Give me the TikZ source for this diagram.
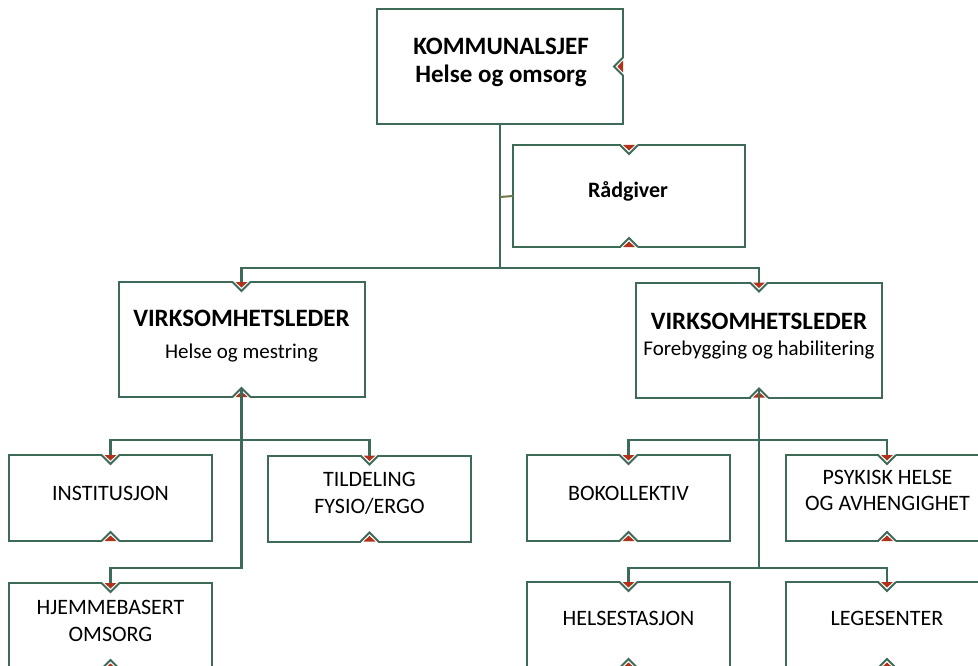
\documentclass[tikz,border=0pt]{standalone}
\usepackage{fontspec}
\setmainfont{Carlito}
\definecolor{lc}{HTML}{3E6B57}
\definecolor{olv}{HTML}{6E7A4C}
\definecolor{rd}{HTML}{B0321A}
\newcommand\notchtop[1]{%
  \fill[white] ([xshift=-8.5pt,yshift=-1.8pt]#1.north) rectangle ([xshift=8.5pt,yshift=1.8pt]#1.north);
  \fill[rd] ([xshift=-6pt]#1.north) -- ([xshift=6pt]#1.north) -- ([yshift=-5.5pt]#1.north) -- cycle;
  \draw[notchline] ([xshift=-9pt]#1.north) -- ([yshift=-9pt]#1.north) -- ([xshift=9pt]#1.north);}
\newcommand\notchbot[1]{%
  \fill[white] ([xshift=-8.5pt,yshift=-1.8pt]#1.south) rectangle ([xshift=8.5pt,yshift=1.8pt]#1.south);
  \fill[rd] ([xshift=-6pt]#1.south) -- ([xshift=6pt]#1.south) -- ([yshift=5.5pt]#1.south) -- cycle;
  \draw[notchline] ([xshift=-9pt]#1.south) -- ([yshift=9pt]#1.south) -- ([xshift=9pt]#1.south);}
\newcommand\notchright[1]{%
  \fill[white] ([xshift=-1.8pt,yshift=-8.5pt]#1.east) rectangle ([xshift=1.8pt,yshift=8.5pt]#1.east);
  \fill[rd] ([yshift=-6pt]#1.east) -- ([yshift=6pt]#1.east) -- ([xshift=-5.5pt]#1.east) -- cycle;
  \draw[notchline] ([yshift=-9pt]#1.east) -- ([xshift=-9pt]#1.east) -- ([yshift=9pt]#1.east);}
\tikzset{
  orgbox/.style={draw=lc, line width=2pt, fill=white, inner sep=0pt, outer sep=0pt, rectangle},
  smallbox/.style={orgbox, minimum width=203pt, minimum height=86pt},
  bigbox/.style={orgbox, minimum width=246pt, minimum height=115pt},
  notchline/.style={draw=lc, line width=2pt, line join=miter},
  conn/.style={draw=lc, line width=2.4pt},
  hdr/.style={anchor=base, inner sep=0pt, font=\fontsize{25}{30}\selectfont\bfseries},
  sub/.style={anchor=base, inner sep=0pt, font=\fontsize{21}{25}\selectfont},
  unit/.style={anchor=base, inner sep=0pt, font=\fontsize{22}{26}\selectfont},
}
\begin{document}
\begin{tikzpicture}[x=1pt,y=-1pt]
\useasboundingbox (0,0) rectangle (978,666);
\clip (0,0) rectangle (978,666);
% boxes
\node[bigbox] (kom) at (500,66.5) {};
\node[orgbox, minimum width=232pt, minimum height=102pt] (rad) at (629,196) {};
\node[bigbox] (vl1) at (241.5,339.5) {};
\node[bigbox] (vl2) at (759,340) {};
\node[smallbox] (inst) at (110.5,498) {};
\node[smallbox] (tild) at (369.5,498.5) {};
\node[smallbox] (hjem) at (110.5,626) {};
\node[smallbox] (bok) at (628.5,498) {};
\node[smallbox] (psy) at (887,498) {};
\node[smallbox] (hel) at (628.5,625) {};
\node[smallbox] (leg) at (887,625) {};
% notches
\notchright{kom}
\foreach \n in {rad,vl1,vl2,inst,tild,hjem,bok,psy,hel,leg}{\notchtop{\n}\notchbot{\n}}
% junctions
\coordinate (j1) at (500,268);
\coordinate (jr) at (500,197);
\coordinate (l1) at (241.5,440);
\coordinate (l2) at (241.5,568);
\coordinate (r1) at (759,440);
\coordinate (r2) at (759,568);
% connectors
\draw[conn] (kom.south) -- (j1);
\draw[conn] (j1) -| (vl1.north);
\draw[conn] (j1) -| (vl2.north);
\draw[draw=olv, line width=2pt] (jr) -- (rad.west);
\draw[conn] ([yshift=9pt]vl1.south) -- (l2) -| (hjem.north);
\draw[conn] (l1) -| (inst.north);
\draw[conn] (l1) -| (tild.north);
\draw[conn] ([yshift=9pt]vl2.south) -- (r2);
\draw[conn] (r1) -| (bok.north);
\draw[conn] (r1) -| (psy.north);
\draw[conn] (r2) -| (hel.north);
\draw[conn] (r2) -| (leg.north);
% texts
\node[hdr] (tkom1) at (501,55) {KOMMUNALSJEF};
\node[hdr] (tkom2) at (501,83) {Helse og omsorg};
\node[hdr, font=\fontsize{22}{26}\selectfont\bfseries] (trad) at (628,198) {Rådgiver};
\node[hdr] (tvl1a) at (241.5,326) {VIRKSOMHETSLEDER};
\node[sub] (tvl1b) at (241.5,358) {Helse og mestring};
\node[hdr] (tvl2a) at (759,329) {VIRKSOMHETSLEDER};
\node[sub] (tvl2b) at (759,355) {Forebygging og habilitering};
\node[unit] (tinst) at (110.5,500) {INSTITUSJON};
\node[unit] (ttild1) at (369.5,486) {TILDELING};
\node[unit] (ttild2) at (369.5,513) {FYSIO/ERGO};
\node[unit] (thjem1) at (110.5,614) {HJEMMEBASERT};
\node[unit] (thjem2) at (110.5,641) {OMSORG};
\node[unit] (tbok) at (628.5,500) {BOKOLLEKTIV};
\node[unit] (tpsy1) at (887.5,484) {PSYKISK HELSE};
\node[unit] (tpsy2) at (887.5,510) {OG AVHENGIGHET};
\node[unit] (thel) at (628.5,625) {HELSESTASJON};
\node[unit] (tleg) at (887,625) {LEGESENTER};
\end{tikzpicture}
\end{document}
